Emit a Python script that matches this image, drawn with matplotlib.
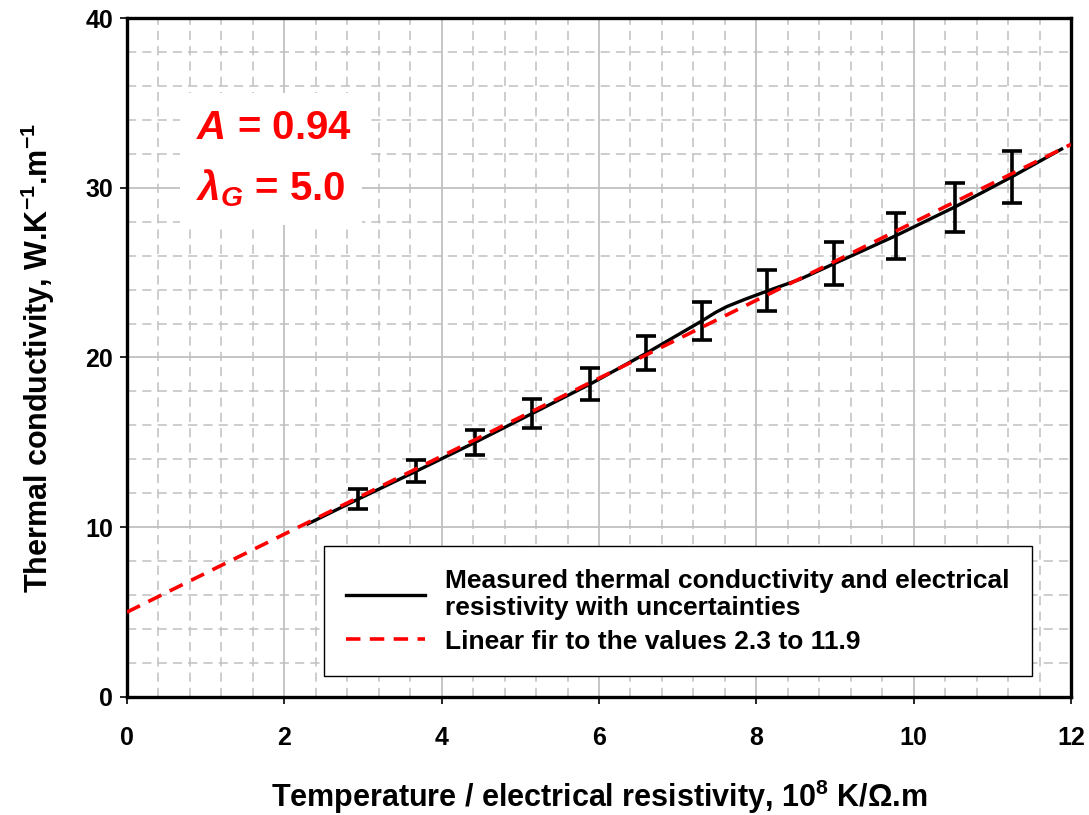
import numpy as np
import matplotlib
matplotlib.use("Agg")
import matplotlib.pyplot as plt
from matplotlib.ticker import MultipleLocator

plt.rcParams['font.family'] = ['Liberation Sans', 'DejaVu Sans']
plt.rcParams['mathtext.fontset'] = 'custom'
plt.rcParams['mathtext.rm'] = 'Liberation Sans:bold'
plt.rcParams['mathtext.it'] = 'Liberation Sans:italic:bold'
plt.rcParams['mathtext.bf'] = 'Liberation Sans:bold'

# measured curve (T / rho, 1e8 K/Ohm.m) and thermal conductivity (W/K.m)
meas_x = [2.30, 2.94, 3.68, 4.42, 5.15, 5.89, 6.60, 7.31, 7.48, 7.62, 7.85, 8.14, 8.55,
          8.99, 9.77, 10.52, 11.25, 11.88]
meas_y = [10.2, 11.66, 13.31, 14.99, 16.70, 18.44, 20.25, 22.16, 22.65, 22.99, 23.42, 23.92, 24.60,
          25.53, 27.17, 28.86, 30.65, 32.28]

# points carrying uncertainty bars
bar_x = [2.94, 3.68, 4.42, 5.15, 5.89, 6.60, 7.31, 8.14, 8.99, 9.77, 10.52, 11.25]
bar_y = [11.66, 13.31, 14.99, 16.70, 18.44, 20.25, 22.16, 23.95, 25.53, 27.17, 28.86, 30.65]
bar_err = [0.59, 0.66, 0.74, 0.84, 0.93, 1.01, 1.13, 1.21, 1.26, 1.36, 1.44, 1.53]

# linear fit: lambda = lambda_G + A * L0 * (T / rho)
A = 0.94
lambda_G = 5.0
L0 = 2.443
fit_x = [0.0, 12.0]
fit_y = [lambda_G + A * L0 * v for v in fit_x]

fig = plt.figure(figsize=(10.89, 8.15), dpi=100)
ax = fig.add_axes([0.1166, 0.1448, 0.8669, 0.8331])

ax.set_xlim(0, 12)
ax.set_ylim(0, 40)
ax.xaxis.set_major_locator(MultipleLocator(2))
ax.xaxis.set_minor_locator(MultipleLocator(0.4))
ax.yaxis.set_major_locator(MultipleLocator(10))
ax.yaxis.set_minor_locator(MultipleLocator(2))

ax.grid(which='major', color='#c0c0c0', linewidth=1.3, linestyle='-')
ax.grid(which='minor', color='#c0c0c0', linewidth=1.1, linestyle=(0, (6, 4)))
ax.set_axisbelow(True)

for s in ax.spines.values():
    s.set_linewidth(2.4)
    s.set_color('black')

ax.tick_params(which='major', direction='out', length=5, width=1.2, labelsize=18)
ax.tick_params(axis='x', which='major', pad=16)
ax.tick_params(axis='y', which='major', pad=5)
ax.tick_params(which='minor', length=0)
for lab in ax.get_xticklabels() + ax.get_yticklabels():
    lab.set_fontweight('bold')

ax.errorbar(bar_x, bar_y, yerr=bar_err, fmt='none', ecolor='black',
            elinewidth=2.6, capsize=7.5, capthick=2.6, zorder=3)
ax.plot(meas_x, meas_y, color='black', linewidth=2.4, zorder=4,
        label='Measured thermal conductivity and electrical\nresistivity with uncertainties')
ax.plot(fit_x, fit_y, color='#ff0000', linewidth=2.6, linestyle=(0, (4, 2.6)),
        zorder=5, label='Linear fir to the values 2.3 to 11.9')

leg = ax.legend(loc='lower right', bbox_to_anchor=(0.9587, 0.0309),
                prop={'weight': 'bold', 'size': 19}, frameon=True,
                fancybox=False, edgecolor='black', framealpha=1,
                handlelength=3.0, borderpad=0.85, labelspacing=0.35,
                handletextpad=0.75, borderaxespad=0)
leg.get_frame().set_linewidth(1.0)

ax.text(0.88, 33.5, '$A$ = 0.94', color='#ff0000', fontsize=29,
        fontweight='bold', ha='left', va='center', zorder=6,
        bbox=dict(facecolor='white', edgecolor='none', pad=12))
ax.text(0.88, 30.0, r'$\lambda_G$ = 5.0', color='#ff0000', fontsize=29,
        fontweight='bold', ha='left', va='center', zorder=6,
        bbox=dict(facecolor='white', edgecolor='none', pad=12))

ax.set_xlabel(r'Temperature / electrical resistivity, 10$^{8}$ K/$\Omega$.m',
              fontsize=22, fontweight='bold', labelpad=20)
ax.set_ylabel(r'Thermal conductivity, W.K$^{-1}$.m$^{-1}$',
              fontsize=22, fontweight='bold', labelpad=20)

fig.savefig('out.png', dpi=100)
